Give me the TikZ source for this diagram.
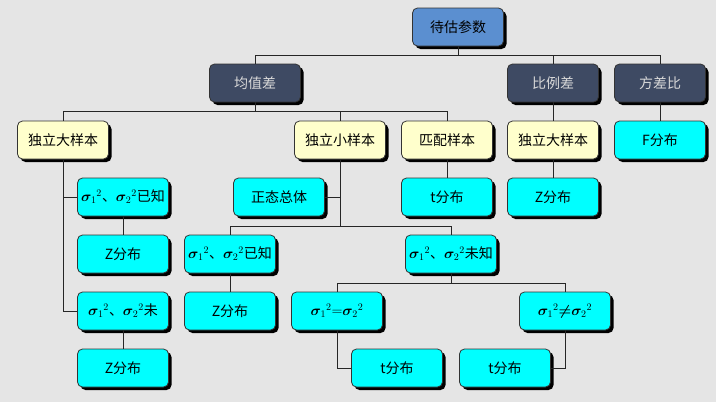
\documentclass[tikz,border=0pt]{standalone}
\usepackage{bm}
\usepackage{fontspec}
\usepackage{tikz}
\usetikzlibrary{shadows}
\setmainfont{Noto Sans CJK SC}
\definecolor{bggray}{rgb}{0.9,0.9,0.9}
\definecolor{topblue}{RGB}{91,143,208}
\definecolor{slate}{RGB}{62,74,99}
\definecolor{cream}{RGB}{255,255,204}
\definecolor{aqua}{RGB}{0,255,255}
\newcommand{\sig}[1]{$\bm{\sigma}_{#1}{}^{2}$}

\begin{document}
\begin{tikzpicture}[x=1pt, y=-1pt,
  box/.style = {shape=rectangle, rounded corners=5pt, draw=black!80, line width=0.8pt, align=center, minimum height=38pt, minimum width=91pt, inner sep=2pt, font=\fontsize{14}{16}\selectfont, drop shadow={shadow xshift=3pt, shadow yshift=-3pt, fill=black, opacity=1}},
  top/.style = {box, fill=topblue},
  cat/.style = {box, fill=slate, text=black!15},
  kind/.style = {box, fill=cream},
  leaf/.style = {box, fill=aqua},
  link/.style = {draw=black!85, line width=1pt}]
	\fill[bggray] (0,0) rectangle (716,402);
	\useasboundingbox (0,0) rectangle (716,402);
	% level 1 and 2
	\node[top] (root) at (458,27) {待估参数};
	\node[cat] (mean) at (255,83) {均值差};
	\node[cat] (prop) at (553,83) {比例差};
	\node[cat] (var) at (660,83) {方差比};
	% level 3
	\node[kind] (indL) at (63,140) {独立大样本};
	\node[kind] (small) at (340,140) {独立小样本};
	\node[kind] (pair) at (447,140) {匹配样本};
	\node[kind] (indR) at (553,140) {独立大样本};
	\node[leaf] (fdist) at (660,140) {F分布};
	% left column
	\node[leaf] (knownL) at (123,197) {\sig{1}、\sig{2}已知};
	\node[leaf] (zL1) at (123,254) {Z分布};
	\node[leaf] (unkL) at (123,311) {\sig{1}、\sig{2}未};
	\node[leaf] (zL2) at (123,368) {Z分布};
	% small samples
	\node[leaf] (normal) at (279,197) {正态总体};
	\node[leaf] (knownM) at (230,254) {\sig{1}、\sig{2}已知};
	\node[leaf] (zM) at (230,311) {Z分布};
	\node[leaf] (unkM) at (451,254) {\sig{1}、\sig{2}未知};
	\node[leaf] (equal) at (337,311) {\sig{1}$=$\sig{2}};
	\node[leaf] (noteq) at (565,311) {\sig{1}$\bm{\neq}$\sig{2}};
	\node[leaf] (tEq) at (397,368) {t分布};
	\node[leaf] (tNe) at (505,368) {t分布};
	% right side
	\node[leaf] (tPair) at (447,197) {t分布};
	\node[leaf] (zR) at (553,197) {Z分布};
	% connectors
	\path[link] (root.south) -- ++(0,9) -| (mean.north);
	\path[link] (root.south) -- ++(0,9) -| (prop.north);
	\path[link] (root.south) -- ++(0,9) -| (var.north);
	\path[link] (mean.south) -- ++(0,9) -| (indL.north);
	\path[link] (mean.south) -- ++(0,9) -| (small.north);
	\path[link] (mean.south) -- ++(0,9) -| (pair.north);
	\path[link] (prop.south) -- (indR.north);
	\path[link] (var.south) -- (fdist.north);
	\path[link] (pair.south) -- (tPair.north);
	\path[link] (indR.south) -- (zR.north);
	\path[link] (indL.south) |- (knownL.west);
	\path[link] (indL.south) |- (unkL.west);
	\path[link] (knownL.south) -- (zL1.north);
	\path[link] (unkL.south) -- (zL2.north);
	\path[link] (small.south) |- (normal.east);
	\path[link] (small.south) -- ++(0,67) -| (knownM.north);
	\path[link] (small.south) -- ++(0,67) -| (unkM.north);
	\path[link] (knownM.south) -- (zM.north);
	\path[link] (unkM.south) -- ++(0,10) -| (equal.north);
	\path[link] (unkM.south) -- ++(0,10) -| (noteq.north);
	\path[link] (equal.south) |- (tEq.west);
	\path[link] (noteq.south) |- (tNe.east);
\end{tikzpicture}
\end{document}
